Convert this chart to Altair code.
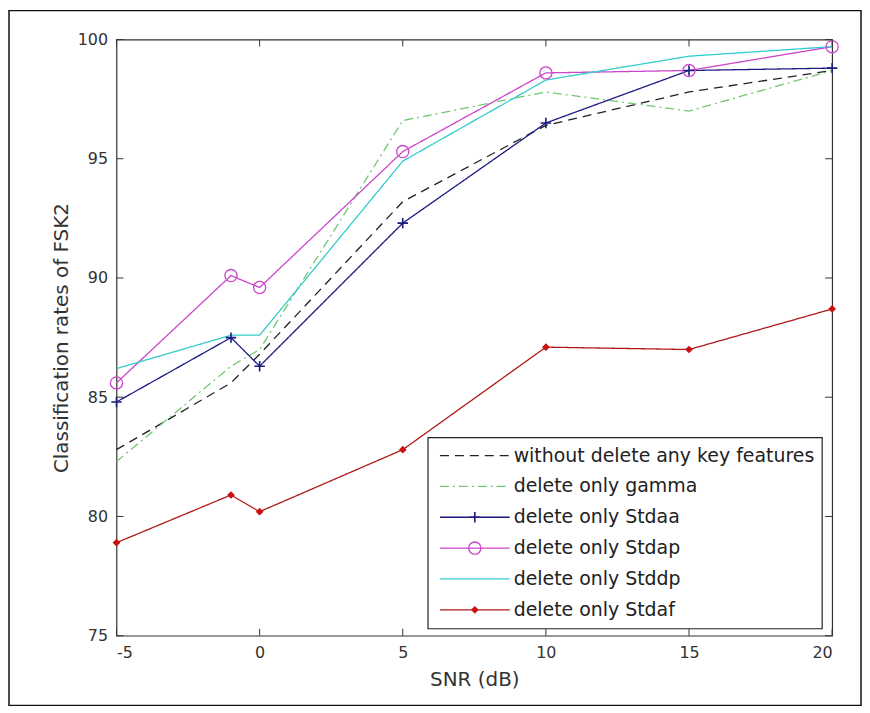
import altair as alt
import pandas as pd

# ---- data ----
snr = [-5, -1, 0, 5, 10, 15, 20]
labels = [
    "without delete any key features",
    "delete only gamma",
    "delete only Stdaa",
    "delete only Stdap",
    "delete only Stddp",
    "delete only Stdaf",
]
without_vals = [82.8, 85.6, 86.8, 93.2, 96.4, 97.8, 98.7]
gamma_vals = [82.3, 86.3, 87.0, 96.6, 97.8, 97.0, 98.7]
stdaa_vals = [84.8, 87.5, 86.3, 92.3, 96.5, 98.7, 98.8]
stdap_vals = [85.6, 90.1, 89.6, 95.3, 98.6, 98.7, 99.7]
stddp_vals = [86.2, 87.6, 87.6, 94.9, 98.3, 99.3, 99.7]
stdaf_vals = [78.9, 80.9, 80.2, 82.8, 87.1, 87.0, 88.7]
x_ticks = [-5, 0, 5, 10, 15, 20]
y_ticks = [75, 80, 85, 90, 95, 100]

colors = ["#222222", "#70c870", "#1a1a80", "#cc44cc", "#33cccc", "#b01818"]
dashes = [[9, 6], [9, 4, 2, 4], [1, 0], [1, 0], [1, 0], [1, 0]]

series_vals = [without_vals, gamma_vals, stdaa_vals, stdap_vals, stddp_vals, stdaf_vals]
rows = []
for lab, vals in zip(labels, series_vals):
    for xv, yv in zip(snr, vals):
        rows.append({"snr": xv, "rate": yv, "series": lab})
df = pd.DataFrame(rows)

W, H = 719, 599
FONT = "DejaVu Sans"

xscale = alt.Scale(domain=[-5, 20], nice=False, zero=False)
yscale = alt.Scale(domain=[75, 100], nice=False, zero=False)
cscale = alt.Scale(domain=labels, range=colors)
dscale = alt.Scale(domain=labels, range=dashes)

X = alt.X("snr:Q", scale=xscale,
          axis=alt.Axis(values=x_ticks, ticks=False, domain=False, grid=False,
                        labelExpr="'' + datum.value",
                        title="SNR (dB)", labelPadding=9, titlePadding=9))
Y = alt.Y("rate:Q", scale=yscale,
          axis=alt.Axis(values=y_ticks, ticks=False, domain=False, grid=False,
                        title="Classification rates of FSK2", labelPadding=9,
                        titlePadding=6))

base = alt.Chart(df)
lines = base.mark_line(strokeWidth=1.3).encode(
    x=X, y=Y,
    color=alt.Color("series:N", scale=cscale, legend=None),
    strokeDash=alt.StrokeDash("series:N", scale=dscale, legend=None),
    detail="series:N",
)

PLUS = "M-1,0L1,0M0,-1L0,1"
m_aa = base.transform_filter(alt.datum.series == labels[2]).mark_point(
    shape=PLUS, size=110, strokeWidth=1.6, filled=False, opacity=1
).encode(x="snr:Q", y="rate:Q", color=alt.Color("series:N", scale=cscale, legend=None))
m_ap = base.transform_filter(alt.datum.series == labels[3]).mark_point(
    shape="circle", size=150, strokeWidth=1.3, filled=False, opacity=1
).encode(x="snr:Q", y="rate:Q", color=alt.Color("series:N", scale=cscale, legend=None))
m_af = base.transform_filter(alt.datum.series == labels[5]).mark_point(
    shape="diamond", size=60, filled=True, opacity=1
).encode(x="snr:Q", y="rate:Q", color=alt.value("#cc1010"))

# inward MATLAB-style ticks on all four sides
xt = alt.Chart(pd.DataFrame({"snr": x_ticks}))
yt = alt.Chart(pd.DataFrame({"rate": y_ticks}))
tick_style = dict(color="#333333", strokeWidth=1)
t_bottom = xt.mark_rule(**tick_style).encode(x="snr:Q", y=alt.value(H), y2=alt.value(H - 7))
t_top = xt.mark_rule(**tick_style).encode(x="snr:Q", y=alt.value(0), y2=alt.value(7))
t_left = yt.mark_rule(**tick_style).encode(y="rate:Q", x=alt.value(0), x2=alt.value(7))
t_right = yt.mark_rule(**tick_style).encode(y="rate:Q", x=alt.value(W - 7), x2=alt.value(W))

main = alt.layer(lines, m_aa, m_ap, m_af, t_bottom, t_top, t_left, t_right)

# ---- legend box ----
one = pd.DataFrame({"a": [0]})
leg_df = pd.DataFrame({"series": labels})
LY = alt.Y("series:N", sort=labels,
           scale=alt.Scale(type="point", domain=labels, range=[418, 573], padding=0),
           axis=None)
box = alt.Chart(one).mark_rect(fill="white", stroke="#222222", strokeWidth=1.2).encode(
    x=alt.value(313), x2=alt.value(709), y=alt.value(400), y2=alt.value(592))
lchart = alt.Chart(leg_df)
leg_lines = lchart.mark_rule(strokeWidth=1.3).encode(
    y=LY, x=alt.value(325), x2=alt.value(395),
    color=alt.Color("series:N", scale=cscale, legend=None),
    strokeDash=alt.StrokeDash("series:N", scale=dscale, legend=None))
leg_aa = lchart.transform_filter(alt.datum.series == labels[2]).mark_point(
    shape=PLUS, size=110, strokeWidth=1.6, filled=False, opacity=1
).encode(y=LY, x=alt.value(360), color=alt.Color("series:N", scale=cscale, legend=None))
leg_ap = lchart.transform_filter(alt.datum.series == labels[3]).mark_point(
    shape="circle", size=150, strokeWidth=1.3, filled=False, opacity=1
).encode(y=LY, x=alt.value(360), color=alt.Color("series:N", scale=cscale, legend=None))
leg_af = lchart.transform_filter(alt.datum.series == labels[5]).mark_point(
    shape="diamond", size=60, filled=True, opacity=1
).encode(y=LY, x=alt.value(360), color=alt.value("#cc1010"))
leg_text = lchart.mark_text(align="left", baseline="middle", font=FONT, fontSize=19,
                            color="#222222").encode(
    y=LY, x=alt.value(399), text="series:N")
legend = alt.layer(box, leg_lines, leg_aa, leg_ap, leg_af, leg_text)

# outer figure frame
frame = alt.Chart(one).mark_rect(fill=None, stroke="#111111", strokeWidth=1.5).encode(
    x=alt.value(-108), x2=alt.value(748), y=alt.value(-29), y2=alt.value(669))

chart = alt.layer(main, legend, frame).resolve_scale(y="independent").properties(
    width=W, height=H,
    padding={"left": 109, "top": 30, "right": 30, "bottom": 71},
    autosize=alt.AutoSizeParams(type="none"),
    background="white",
).configure_view(stroke="#333333", strokeWidth=1.2).configure_axis(
    labelFont=FONT, labelFontSize=16, labelColor="#333333",
    titleFont=FONT, titleFontSize=20, titleColor="#333333", titleFontWeight="normal",
)

chart.save("out.html", embed_options={"renderer": "svg", "actions": False})
